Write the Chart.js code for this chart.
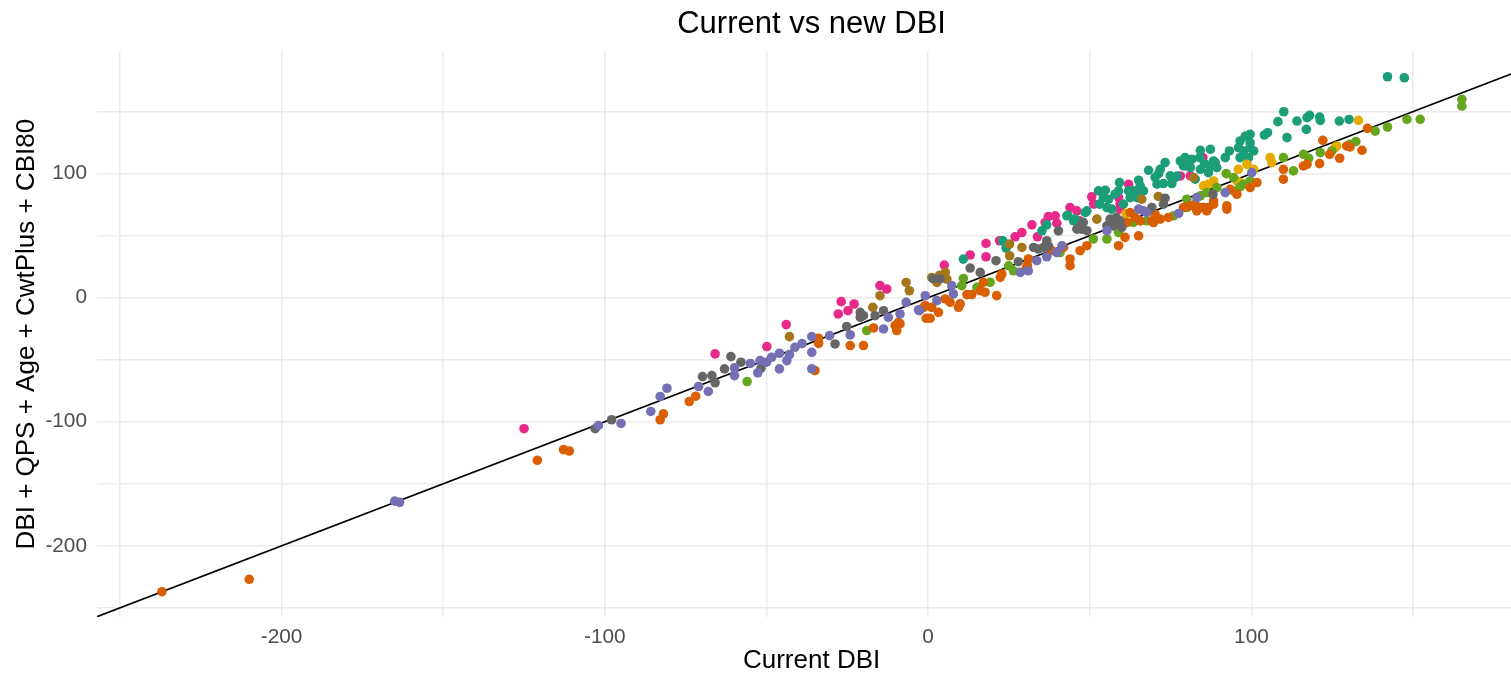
<!DOCTYPE html>
<html lang="en">
<head>
  <meta charset="UTF-8">
  <title>Current vs new DBI</title>
  <script src="https://cdn.jsdelivr.net/npm/chart.js"></script>
  <style>
    html, body { margin: 0; padding: 0; overflow: hidden; background: #fff; }
  </style>
</head>
<body>
  <canvas id="myChart" width="1531" height="674"></canvas>

  <script>
    // axis ranges and ticks (ggplot-style: grid every 50, labels every 100)
    const xRange = [-257.1, 185];
    const yRange = [-257.4, 198.7];
    const gridValues = [-250, -200, -150, -100, -50, 0, 50, 100, 150];
    const labelValues = [-200, -100, 0, 100];
    const refLine = [-300, 300];

    // [current DBI, new DBI] per group
    const groupOrange = [[-237,-237],[-210,-227],[-120.9,-131.1],[-112.8,-122.5],[-111,-123.6],[-82.9,-98.4],[-81.9,-93.6],[-73.9,-83.7],[-71.9,-79.4],[-35,-58.7],[-33.9,-36.8],[-33.9,-32.7],[-24.1,-38.6],[-20,-38.6],[-16.9,-24.4],[-10.2,-22.5],[-9.7,-26.5],[-9.2,-19.9],[-8.7,-21],[-1.4,-7.7],[-0.9,-6.4],[1.1,-7.8],[3.2,-11.8],[-0.6,-16.6],[0.6,-16.6],[5.3,-1],[6.8,-3.7],[9.4,-7.7],[9.9,-5],[12,2.5],[13.5,2.5],[16.1,5.7],[17.6,4.4],[17.1,12.4],[21.2,1.7],[22.3,16.4],[22.8,19.1],[30.5,24.5],[31,31.2],[30.7,25.8],[38.3,37.9],[41.9,40.6],[43.9,31.2],[43.9,25.8],[47,37.9],[49.1,41.9],[58.9,41.9],[60.9,48.6],[65.1,49.9],[61.5,60.6],[62.5,68.6],[64,64.6],[65.6,61.9],[69.2,61.9],[69.7,60.6],[70.2,67.3],[71.8,63.3],[74.3,64.7],[79,72.7],[81,74],[82.6,75.4],[83.1,70],[84.2,72.7],[85.2,72.7],[86.2,70],[86.7,72.7],[88.3,75.4],[88.3,78.1],[92.4,74],[92.4,71.4],[93.4,87.4],[95.5,83.4],[99.6,88.8],[101.7,92.8],[109.9,95.5],[109.9,103.5],[116.1,106.2],[117.2,107.5],[121.1,108.1],[122.1,126.9],[124.2,115.6],[127.3,112.4],[129.5,122.3],[130.5,121.5],[134.2,118.8],[135.9,136.5]];
    const groupPurple = [[-165,-164],[-163.5,-165],[-102,-103],[-95,-101.4],[-85.8,-91.7],[-82.9,-79.6],[-80.8,-73],[-71,-71.6],[-68,-75.6],[-59.9,-56.6],[-59.9,-62.8],[-55,-53],[-52.7,-60.6],[-52,-50.7],[-50,-52],[-48.4,-48],[-46,-44.8],[-46,-57.4],[-43.7,-50.7],[-42.9,-45.9],[-41.2,-40],[-39,-37],[-36,-31.4],[-36,-44],[-36,-57.4],[-30.5,-30.6],[-24.1,-30],[-13.8,-25.2],[-12.3,-15.8],[-8.7,-13.1],[-6.8,-3.8],[-3,-9.8],[-2.7,-10.5],[-0.9,1.6],[2.7,-2.4],[7.8,3],[7.3,9.7],[28.5,20.4],[31,21.7],[33.6,29.8],[36.7,33],[39.8,36.4],[41.4,41.8],[55.3,54],[65.1,71.4],[66.6,70],[67.6,68.7],[77.5,67.9],[83.1,80.7],[91.9,84.8],[100.1,100.8]];
    const groupGray = [[-103,-105.6],[-97.9,-98.4],[-69.8,-63.6],[-66.9,-62.8],[-65.9,-68.6],[-63,-57.4],[-61,-47.5],[-57.9,-52],[-51.7,-56.8],[-28.8,-37.3],[-25.2,-23.3],[-21,-11.8],[-21,-15.8],[-20,-14.5],[-16.4,-14.5],[-13.8,-10.5],[1.5,15.3],[3.7,15.1],[13,23.9],[16.1,20.4],[21,29.8],[27.9,29],[32.6,40.5],[34.1,39.2],[35.7,40.5],[36.7,45.9],[37.2,41.8],[40.3,53.9],[46,55.3],[47.5,55.3],[49.1,54],[48,60.7],[55.3,57.9],[57.3,57.9],[56.3,63.3],[58.2,64.6],[59.4,61.9],[59.9,56.6],[69.2,72.7],[73.3,80.2],[72.8,75.4],[88.1,83.4]];
    const groupBrown = [[-42.9,-31.4],[-17.1,-7.8],[-14.9,1.6],[-6.8,12.3],[-5.8,5.6],[1.1,16.3],[2.7,12.3],[3.5,18],[5.3,20.4],[5.8,15],[25.2,43.2],[25.2,33.8],[29,40.5],[52.2,63.3],[66.1,79.4],[71.2,81.6],[82.1,96.9]];
    const groupGreen = [[-56,-67.6],[-19,-26.5],[10.9,15.5],[10.4,9.7],[15.1,8.4],[19.2,12.4],[24.9,25.7],[26.4,21.7],[40.8,36.4],[51.1,47.3],[55.3,47.3],[58.9,52.6],[63.5,60.7],[67.6,62],[69.7,60.7],[75.9,66],[80,72.7],[80,79.4],[84.2,82.1],[86.2,84.8],[89.3,88.8],[94.5,86.1],[97.6,91.5],[92.2,100],[94.5,96.8],[96.5,89.3],[99.6,94.1],[109.9,112.9],[113,102.2],[116.1,115.6],[117.7,112.4],[121.3,116.9],[124.9,118.3],[130.5,123.6],[132.3,125.8],[138.3,134.3],[142.1,137.6],[148.1,143.8],[152.2,143.8],[165.1,159.9],[165.1,154.5]];
    const groupYellow = [[61.2,67.8],[85.2,90.1],[86.7,91.5],[88.3,94.1],[95.5,94.1],[96,103.5],[96.5,92.8],[98.6,107.5],[100.7,103.5],[105.8,112.9],[106.3,108.9],[125.9,121],[126.4,122.3],[133.1,142.9]];
    const groupTeal = [[10.9,31.1],[23.1,45.9],[24.1,40],[35.2,53.9],[36.7,58.7],[42.9,66],[45,61.9],[43.2,66.5],[45.5,63.3],[49.1,70],[48.6,68.7],[52.7,86.1],[54.8,86.6],[54.2,80.7],[55.8,79.4],[53,75.4],[56.8,71.4],[55.3,72.7],[59.2,92.8],[62,86.1],[58.9,86.1],[62.5,80.7],[63.5,86.1],[65.1,94.7],[65.6,90.1],[66.6,86.1],[64.6,80.7],[57.8,83.4],[60.4,75.4],[68.2,102.7],[71.3,100],[77,98],[80.5,107.6],[85.5,108],[88.8,108.9],[70.2,96.8],[70.8,91.5],[71.8,103.5],[72.8,92],[73.3,108.9],[74.9,98.2],[75.4,92],[76.4,96.8],[78,110.2],[79,106.2],[79.5,112.9],[81.1,104.9],[81.6,111.6],[82.6,95.5],[84,112.9],[84.2,118.8],[84.2,103.5],[86.7,100.8],[87.3,106.2],[87.3,119.6],[88.3,110.2],[89.3,104.9],[91.9,112.9],[93.2,118.3],[96,121],[96.5,126.3],[96.5,112.9],[97.6,118.3],[98.1,130.3],[99.1,112.9],[99.6,131.7],[99.6,121],[99.6,125],[100.7,118.3],[104,131.1],[105,133],[108.2,141.9],[110,149.9],[111,129],[114.1,142.4],[117,135.7],[117.2,145.1],[118,147],[121.1,145.6],[121.3,142.9],[127.2,142.4],[130.2,143.7],[142.1,178.1],[147.3,177.3]];
    const groupPink = [[-125,-105.6],[-65.9,-45.3],[-49.9,-39.4],[-43.9,-21.7],[-27.8,-13.1],[-26.9,-3.2],[-24.8,-10.5],[-22.9,-5.1],[-14.9,9.7],[-12.8,7],[5,26.3],[13,34.4],[17.9,43.7],[17.9,33],[22.1,45.9],[26.9,49.1],[29,52.5],[32.1,58.7],[33.8,49.1],[37.2,65.4],[39.3,66],[39.8,60.1],[36.2,60.6],[43.9,72.6],[46,70],[46.8,61.9],[50.6,81.3],[51.2,75.4],[58.9,80.7],[59.4,75.4],[59.2,71.4],[62,91.5],[65.6,87.4],[78,98.1],[80,106.2],[81.1,98.2],[85,112.9]];

    const toXY = pts => pts.map(p => ({ x: p[0], y: p[1] }));

    function pointSet(pts, color) {
      return {
        type: 'scatter',
        data: toXY(pts),
        backgroundColor: color,
        borderWidth: 0,
        pointRadius: 4.8,
        pointHoverRadius: 4.8
      };
    }

    const ctx = document.getElementById('myChart').getContext('2d');
    const tickFont = { family: 'Liberation Sans', size: 20.8 };
    const axisFont = { family: 'Liberation Sans', size: 26, lineHeight: 1 };

    new Chart(ctx, {
      type: 'scatter',
      data: {
        datasets: [
          pointSet(groupPurple, '#7570B3'),
          pointSet(groupGray, '#666666'),
          pointSet(groupBrown, '#A6761D'),
          pointSet(groupOrange, '#D95F02'),
          pointSet(groupGreen, '#66A61E'),
          pointSet(groupYellow, '#E6AB02'),
          pointSet(groupTeal, '#1B9E77'),
          pointSet(groupPink, '#E7298A'),
          {
            type: 'line',
            data: refLine.map(v => ({ x: v, y: v })),
            borderColor: '#000000',
            borderWidth: 1.8,
            pointRadius: 0,
            fill: false
          }
        ]
      },
      options: {
        responsive: false,
        animation: false,
        layout: { padding: 0 },
        plugins: {
          legend: { display: false },
          tooltip: { enabled: false },
          title: {
            display: true,
            text: 'Current vs new DBI',
            fullSize: false,
            color: '#000000',
            font: { family: 'Liberation Sans', size: 31, weight: 'normal' },
            padding: { top: 6, bottom: 8 }
          }
        },
        scales: {
          x: {
            type: 'linear',
            min: xRange[0],
            max: xRange[1],
            afterBuildTicks: s => { s.ticks = gridValues.map(v => ({ value: v })); },
            afterFit: s => { s.height = 57; },
            grid: { color: '#EBEBEB', lineWidth: 1.5, drawTicks: false },
            border: { display: false },
            ticks: {
              autoSkip: false,
              maxRotation: 0,
              padding: 8,
              color: '#4D4D4D',
              font: tickFont,
              callback: v => labelValues.includes(v) ? String(v) : ''
            },
            title: {
              display: true,
              text: 'Current DBI',
              color: '#000000',
              font: axisFont,
              padding: { top: 0, bottom: 0 }
            }
          },
          y: {
            type: 'linear',
            min: yRange[0],
            max: yRange[1],
            afterBuildTicks: s => { s.ticks = gridValues.map(v => ({ value: v })); },
            afterFit: s => { s.width = 97; },
            grid: { color: '#EBEBEB', lineWidth: 1.5, drawTicks: false },
            border: { display: false },
            ticks: {
              autoSkip: false,
              padding: 10,
              color: '#4D4D4D',
              font: tickFont,
              callback: v => labelValues.includes(v) ? String(v) : ''
            },
            title: {
              display: true,
              text: 'DBI + QPS + Age + CwtPlus + CBI80',
              color: '#000000',
              font: axisFont,
              padding: { top: 14, bottom: 0 }
            }
          }
        }
      }
    });
  </script>
</body>
</html>
